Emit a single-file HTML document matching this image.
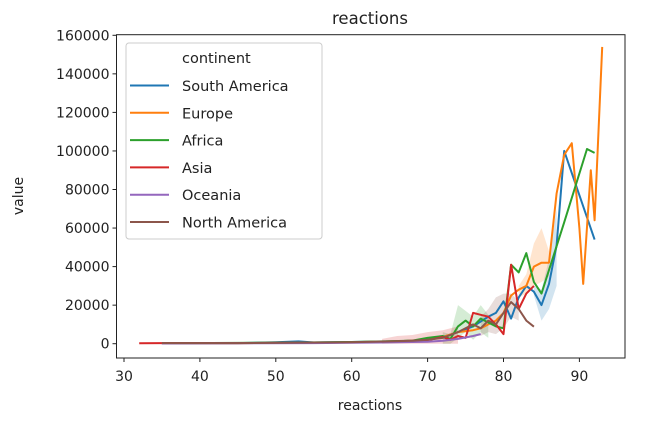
<!DOCTYPE html>
<html><head><meta charset="utf-8"><style>
body{margin:0;background:#fff;}
svg text{font-family:"DejaVu Sans","Liberation Sans",sans-serif;fill:#222;}
</style></head><body>
<svg id="chart" width="652" height="428" xmlns="http://www.w3.org/2000/svg"></svg>
<script>
const xTicks=[30,40,50,60,70,80,90];
const yTicks=[0,20000,40000,60000,80000,100000,120000,140000,160000];
const seriesNames=["South America","Europe","Africa","Asia","Oceania","North America"];
const seriesColors=["#1f77b4","#ff7f0e","#2ca02c","#d62728","#9467bd","#8c564b"];
const saX=[35,45,50,53,55,60,65,68,70,72,74,76,78,79,80,81,82,83,84,85,86,87,88,92];
const saY=[200,300,800,1200,600,900,1200,1500,2000,3500,6000,9000,14000,16000,22000,13000,24000,30000,27000,20000,31000,51000,100000,54000];
const euX=[35,45,55,60,65,68,70,72,74,76,77,78,79,80,81,82,83,84,85,86,87,88,89,90,90.5,91.5,92,93];
const euY=[200,300,500,800,1200,1500,2000,3500,6000,7000,8000,10000,12000,16000,25000,28000,30000,40000,42000,42000,78000,98000,104000,60000,31000,90000,64000,154000];
const afX=[35,45,55,60,65,68,70,72,73,74,75,76,77,78,79,80,81,82,83,84,85,88,91,92];
const afY=[200,400,700,900,1300,1600,3000,4000,2500,9000,12000,9000,13000,11000,9000,8000,41000,37000,47000,32000,26000,63000,101000,99000];
const asX=[32,35,45,55,60,65,68,70,72,73,74,75,76,77,78,79,80,81,82,83,84];
const asY=[200,300,300,500,700,1000,1500,1800,3500,2000,4000,3000,16000,15000,14000,10000,5000,41000,18000,26000,30000];
const ocX=[35,45,55,60,65,70,72,74,76,77];
const ocY=[100,200,300,500,700,1000,1500,2500,4000,5000];
const naX=[35,45,55,60,65,68,70,72,74,76,77,78,79,80,81,82,83,84];
const naY=[300,300,600,800,1200,1500,2000,3000,6000,10000,8000,12000,10000,16000,21600,18000,12000,8800];
const allX=[saX,euX,afX,asX,ocX,naX];
const allY=[saY,euY,afY,asY,ocY,naY];
// confidence bands (series index, x, low, high)
const bandSeries=[0,1,2,5,3];
const bandX=[[84,85,86,87],[82,83,84,85,86],[72,73,74,75,76,77,78],[77,78,79,80,81,82],[64,66,68,70,72,74]];
const bandLo=[[25000,12000,18000,30000],[24000,26000,30000,32000,35000],[0,0,3000,6000,2000,6000,3000],[4000,6000,5000,8000,14000,12000],[0,0,0,0,0,0]];
const bandHi=[[30000,28000,44000,70000],[30000,36000,52000,60000,48000],[6000,5000,20000,17000,14000,20000,15000],[14000,18000,24000,26000,26000,22000],[2500,4000,4500,6000,7000,9000]];

const NS="http://www.w3.org/2000/svg";
const svg=document.getElementById('chart');
const L=116.5,R=625,T=34.7,B=358;
const xs=v=>124+(v-30)*7.59;
const ys=v=>343.7-v/160000*308.4;
function mk(tag,attrs,parent){const e=document.createElementNS(NS,tag);for(const k in attrs)e.setAttribute(k,attrs[k]);(parent||svg).appendChild(e);return e;}

const plot=mk('g',{});


bandSeries.forEach((si,b)=>{
  const xa=bandX[b];
  let d=xa.map((x,j)=>(j?'L':'M')+xs(x).toFixed(1)+' '+ys(bandHi[b][j]).toFixed(1)).join(' ');
  for(let j=xa.length-1;j>=0;j--)d+=' L'+xs(xa[j]).toFixed(1)+' '+ys(bandLo[b][j]).toFixed(1);
  const p=mk('path',{d:d+' Z',fill:seriesColors[si],'fill-opacity':0.2,stroke:'none'},plot);
  
  
});
allX.forEach((xa,i)=>{
  const d=xa.map((x,j)=>(j?'L':'M')+xs(x).toFixed(1)+' '+ys(allY[i][j]).toFixed(1)).join(' ');
  const p=mk('path',{d:d,fill:'none',stroke:seriesColors[i],'stroke-width':2,'stroke-linejoin':'round'},plot);
  
  
});
const frame=mk('rect',{x:L,y:T,width:R-L,height:B-T,fill:'none',stroke:'#222','stroke-width':1});



xTicks.forEach(v=>{
  const x=xs(v);
  mk('line',{x1:x,x2:x,y1:B,y2:B+4,stroke:'#222'});
  const t=mk('text',{x:x,y:B+23,'text-anchor':'middle','font-size':14});
  t.textContent=v;
  
  
});
yTicks.forEach(v=>{
  const y=ys(v);
  mk('line',{x1:L-4,x2:L,y1:y,y2:y,stroke:'#222'});
  const t=mk('text',{x:L-7,y:y+5,'text-anchor':'end','font-size':14});
  t.textContent=v;
  
  
});
const title=mk('text',{x:370,y:24,'text-anchor':'middle','font-size':16.5});
title.textContent='reactions';


const xl=mk('text',{x:370,y:410,'text-anchor':'middle','font-size':14});
xl.textContent='reactions';


const yl=mk('text',{x:23,y:196,'text-anchor':'middle','font-size':14,transform:'rotate(-90 23 196)'});
yl.textContent='value';



const lg=mk('g',{});


mk('rect',{x:126,y:43,width:196,height:196,rx:3,fill:'#fff','fill-opacity':0.8,stroke:'#ccc'},lg);
const lt=mk('text',{x:182,y:63,'font-size':14.5},lg);
lt.textContent='continent';


seriesNames.forEach((n,i)=>{
  const y=85.5+i*27.3;
  const g=mk('g',{},lg);
  
  
  mk('line',{x1:130,x2:169,y1:y,y2:y,stroke:seriesColors[i],'stroke-width':2},g);
  const t=mk('text',{x:182,y:y+5.5,'font-size':14.5},g);
  t.textContent=n;
});
</script>
</body></html>
